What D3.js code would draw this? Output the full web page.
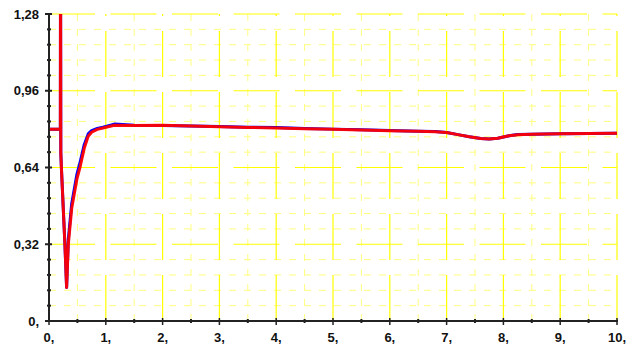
<!DOCTYPE html>
<html>
<head>
<meta charset="utf-8">
<script src="https://cdn.jsdelivr.net/npm/d3@7"></script>
<style>
  html, body { margin: 0; padding: 0; background: #fff; }
  svg { display: block; }
  .lbl { font-family: "Liberation Sans", Arial, sans-serif; font-weight: bold; font-size: 13px; fill: #111; }
</style>
</head>
<body>
<div id="chart"></div>
<script>
// --- data ---
const time = [0, 0.2, 0.203, 0.208, 0.22, 0.28, 0.31, 0.34, 0.40, 0.49, 0.55, 0.62, 0.69, 0.75, 0.85, 0.95, 1.15,
  1.5, 2.0, 2.5, 3.0, 3.5, 4.0, 4.5, 5.0, 5.5, 6.0, 6.5, 6.8, 7.0, 7.2, 7.4, 7.6, 7.75, 7.9, 8.1, 8.25, 8.5, 9.0, 9.5, 10.0];
const blueVals = [0.80, 0.80, 1.60, 0.70, 0.63, 0.32, 0.14, 0.34, 0.49, 0.61, 0.665, 0.735, 0.78, 0.794, 0.803, 0.808, 0.821,
  0.816, 0.815, 0.813, 0.811, 0.808, 0.807, 0.803, 0.800, 0.797, 0.794, 0.791, 0.790, 0.786, 0.777, 0.768, 0.761, 0.759, 0.762, 0.772, 0.778, 0.779, 0.781, 0.782, 0.783];
const redVals = [0.80, 0.80, 1.60, 0.70, 0.63, 0.32, 0.14, 0.32, 0.47, 0.59, 0.645, 0.72, 0.77, 0.787, 0.799, 0.805, 0.816,
  0.815, 0.816, 0.813, 0.810, 0.807, 0.805, 0.802, 0.799, 0.796, 0.793, 0.791, 0.789, 0.786, 0.777, 0.768, 0.761, 0.759, 0.762, 0.772, 0.777, 0.779, 0.781, 0.782, 0.783];
const xTicks = [0, 1, 2, 3, 4, 5, 6, 7, 8, 9, 10];
const xTickLabels = ["0,", "1,", "2,", "3,", "4,", "5,", "6,", "7,", "8,", "9,", "10,"];
const yTicks = [0, 0.32, 0.64, 0.96, 1.28];
const yTickLabels = ["0,", "0,32", "0,64", "0,96", "1,28"];

const W = 640, H = 349;
const pLeft = 49, pRight = 617, pTop = 14, pBottom = 321;

const svg = d3.select('#chart').append('svg').attr('width', W).attr('height', H);

const x = d3.scaleLinear().domain([0, 10]).range([pLeft, pRight]);
const y = d3.scaleLinear().domain([0, 1.28]).range([pBottom, pTop]);

const xMinor = d3.range(0.5, 10, 1);
const yMinor = d3.range(1, 20).map(i => i * 0.064).filter(v => Math.abs(v / 0.32 - Math.round(v / 0.32)) > 1e-6);

// --- grid ---
const grid = svg.append('g');
grid.selectAll('.hminor').data(yMinor).join('line')
  .attr('x1', pLeft).attr('x2', pRight).attr('y1', d => y(d)).attr('y2', d => y(d))
  .attr('stroke', '#ffff80').attr('stroke-width', 1).attr('stroke-dasharray', '7,8');
grid.selectAll('.vminor').data(xMinor).join('line')
  .attr('x1', d => x(d)).attr('x2', d => x(d)).attr('y1', pBottom).attr('y2', pTop)
  .attr('stroke', '#ffff80').attr('stroke-width', 1).attr('stroke-dasharray', '7,8');
grid.selectAll('.hmajor').data(yTicks.slice(1)).join('line')
  .attr('x1', pLeft).attr('x2', pRight).attr('y1', d => y(d)).attr('y2', d => y(d))
  .attr('stroke', '#ffff00').attr('stroke-width', 1.2).attr('stroke-dasharray', '46,15.5');
grid.selectAll('.vmajor').data(xTicks.slice(1)).join('line')
  .attr('x1', d => x(d)).attr('x2', d => x(d)).attr('y1', pBottom).attr('y2', pTop)
  .attr('stroke', '#ffff00').attr('stroke-width', 1.2).attr('stroke-dasharray', '46,15');

// --- series ---
svg.append('clipPath').attr('id', 'clip').append('rect')
  .attr('x', pLeft).attr('y', pTop).attr('width', pRight - pLeft + 2).attr('height', pBottom - pTop);

const line = vals => d3.line().x((d, i) => x(time[i])).y(d => y(d))(vals);
const plot = svg.append('g').attr('clip-path', 'url(#clip)');
plot.append('path').attr('d', line(blueVals)).attr('fill', 'none')
  .attr('stroke', '#0000ff').attr('stroke-width', 3).attr('stroke-linejoin', 'round');
plot.append('path').attr('d', line(redVals)).attr('fill', 'none')
  .attr('stroke', '#ff0000').attr('stroke-width', 3).attr('stroke-linejoin', 'round').attr('opacity', 0.95);

// --- axes ---
const ax = svg.append('g').attr('stroke', '#222');
ax.append('line').attr('x1', pLeft).attr('x2', pLeft).attr('y1', pTop).attr('y2', pBottom + 1).attr('stroke-width', 2);
ax.append('line').attr('x1', pLeft).attr('x2', pRight + 1).attr('y1', pBottom).attr('y2', pBottom).attr('stroke-width', 2);
ax.selectAll('.ytk').data(yTicks).join('line')
  .attr('x1', pLeft - 4).attr('x2', pLeft + 3).attr('y1', d => y(d)).attr('y2', d => y(d)).attr('stroke-width', 2);
ax.selectAll('.ymn').data(yMinor).join('line')
  .attr('x1', pLeft - 2).attr('x2', pLeft + 2).attr('y1', d => y(d)).attr('y2', d => y(d)).attr('stroke-width', 2);
ax.selectAll('.xtk').data(xTicks).join('line')
  .attr('x1', d => x(d)).attr('x2', d => x(d)).attr('y1', pBottom - 3).attr('y2', pBottom + 4).attr('stroke-width', 1.5);
ax.selectAll('.xmn').data(xMinor).join('line')
  .attr('x1', d => x(d)).attr('x2', d => x(d)).attr('y1', pBottom - 2).attr('y2', pBottom + 2).attr('stroke-width', 2);

svg.selectAll('.ylbl').data(yTicks).join('text').attr('class', 'lbl')
  .attr('x', 39).attr('y', d => y(d)).attr('dy', '0.36em').attr('text-anchor', 'end')
  .text((d, i) => yTickLabels[i]);
svg.selectAll('.xlbl').data(xTicks).join('text').attr('class', 'lbl')
  .attr('x', d => x(d)).attr('y', 342).attr('text-anchor', 'middle')
  .text((d, i) => xTickLabels[i]);
</script>
</body>
</html>
